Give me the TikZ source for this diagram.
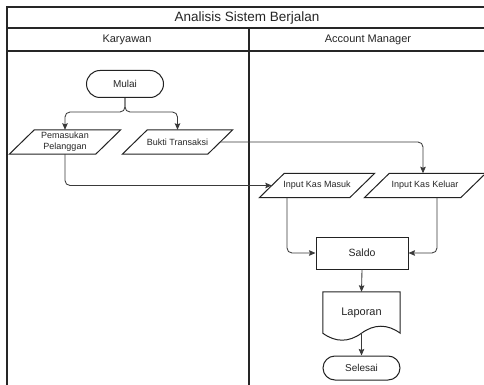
\documentclass[tikz,border=0pt]{standalone}
\usepackage{fontspec}
\setmainfont{Liberation Sans}
\usetikzlibrary{arrows.meta,calc}
\definecolor{txt}{HTML}{262626}
\definecolor{shp}{HTML}{222222}
\definecolor{cn}{HTML}{3A3A3A}
\tikzset{
  frameline/.style={draw=black!85,line width=1.3pt},
  hdr/.style={text=txt,inner sep=0pt},
  term/.style={draw=shp,line width=1pt,rounded corners=#1,text=txt,font=\fontsize{10}{12}\selectfont,inner sep=0pt},
  procbox/.style={draw=shp,line width=1pt,text=txt,inner sep=0pt,minimum width=92pt,minimum height=32pt,font=\fontsize{10.5}{12}\selectfont},
  iobox/.style={draw=none,text=txt,inner sep=0pt,minimum height=24pt,font=\fontsize{9}{11}\selectfont,align=center},
  docbox/.style={draw=none,text=txt,inner sep=0pt,minimum width=77pt,minimum height=41pt,font=\fontsize{11}{13}\selectfont},
  pline/.style={draw=shp,line width=1pt},
  conn/.style={draw=cn,line width=0.85pt,rounded corners=5pt,-{Stealth[length=6.5pt,width=5.5pt,inset=1pt]}}
}
\begin{document}
\begin{tikzpicture}[x=1pt,y=-1pt]
\useasboundingbox (0,0) rectangle (484,385);
\fill[white] (0,0) rectangle (484,385);
% frame
\draw[frameline] (7,400) -- (7,7) -- (490,7);
\draw[frameline] (7,28) -- (490,28);
\draw[frameline] (7,51) -- (490,51);
\draw[frameline] (249,28) -- (249,400);
\node[hdr,font=\fontsize{13.5}{15}\selectfont] (title) at (247,18) {Analisis Sistem Berjalan};
\node[hdr,font=\fontsize{11}{13}\selectfont] (lane1) at (127,40) {Karyawan};
\node[hdr,font=\fontsize{11}{13}\selectfont] (lane2) at (368,40) {Account Manager};
% nodes
\node[term=13.5pt,minimum width=77pt,minimum height=27pt] (mulai) at (125,84) {Mulai};
\node[iobox,minimum width=86pt] (pem) at (65,142) {Pemasukan\\Pelanggan};
\node[iobox,minimum width=85pt] (bukti) at (177.5,142) {Bukti Transaksi};
\node[iobox,minimum width=90pt] (ikm) at (317,185.5) {Input Kas Masuk};
\node[iobox,minimum width=96pt] (ikk) at (425,185.5) {Input Kas Keluar};
\node[procbox] (saldo) at (362,253) {Saldo};
\node[docbox] (lap) at (361.5,312.5) {Laporan};
\node[term=12pt,minimum width=77pt,minimum height=24pt] (selesai) at (361.5,368) {Selesai};
% parallelograms
\foreach \n in {pem,bukti,ikm,ikk}{
  \draw[pline] ([xshift=-12.5pt]\n.south west) -- ([xshift=-12.5pt]\n.south east) -- ([xshift=12.5pt]\n.north east) -- ([xshift=12.5pt]\n.north west) -- cycle;
}
% document shape
\draw[pline] (lap.south west) -- (lap.north west) -- (lap.north east) -- (lap.south east)
  .. controls ($(lap.south east)+(-12.8,-9.3)$) and ($(lap.south)+(12.8,-9.3)$) .. (lap.south)
  .. controls ($(lap.south)+(-12.8,9.3)$) and ($(lap.south west)+(12.8,9.3)$) .. (lap.south west) -- cycle;
% connectors
\coordinate (split) at (125,112);
\draw[conn] (mulai.south) -- (split) -| (pem.north);
\draw[conn] (mulai.south) -- (split) -| (bukti.north);
\draw[conn] (pem.south) |- (ikm.west);
\draw[conn] (bukti.east) -| ([xshift=-2pt]ikk.north);
\draw[conn] ([xshift=-30pt]ikm.south) |- (saldo.west);
\draw[conn] ([xshift=12pt]ikk.south) |- (saldo.east);
\draw[conn] (saldo.south) -- (lap.north);
\draw[conn] (lap.south) -- (selesai.north);
\end{tikzpicture}
\end{document}
